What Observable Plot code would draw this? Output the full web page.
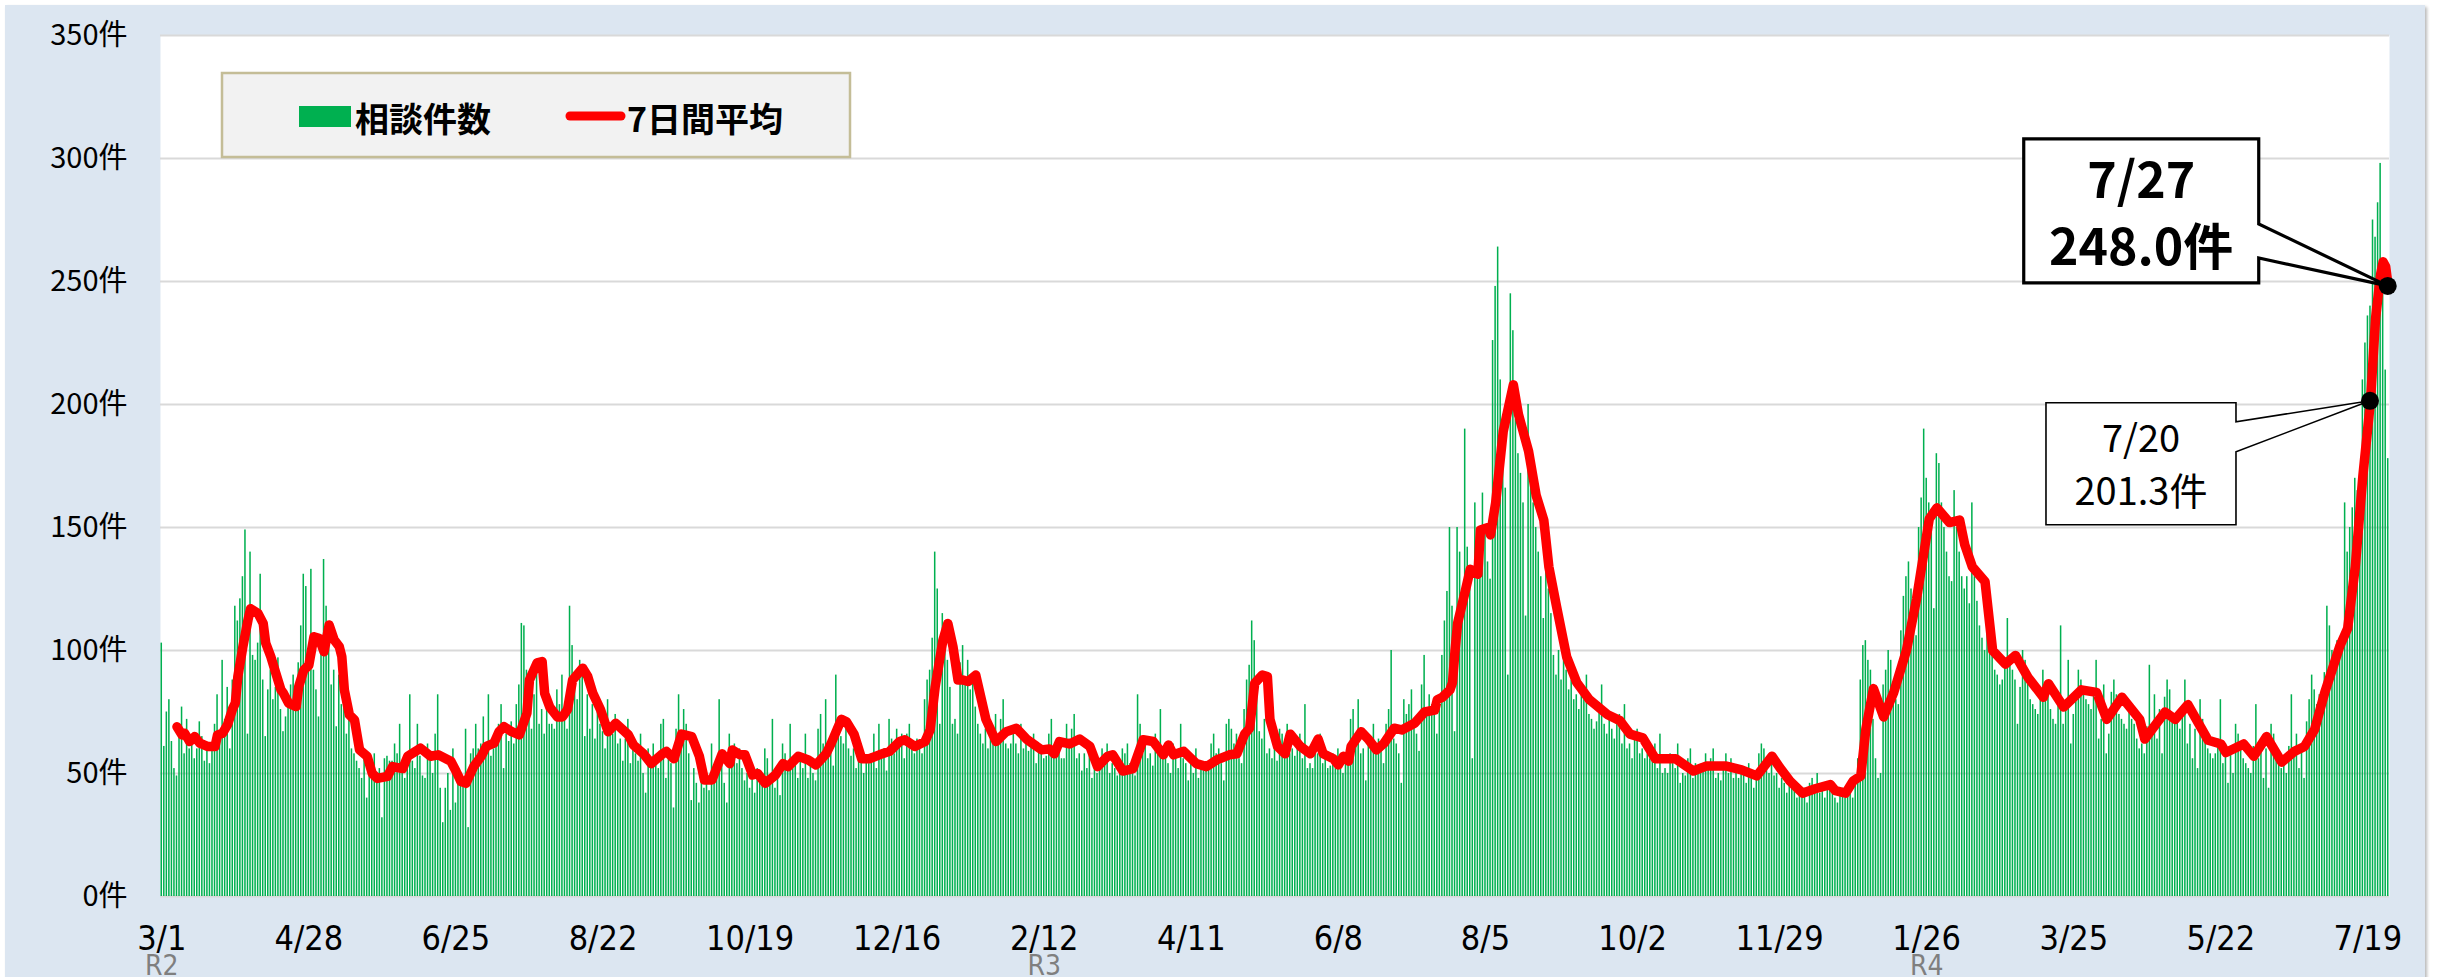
<!DOCTYPE html>
<html>
<head>
<meta charset="utf-8">
<script src="https://cdn.jsdelivr.net/npm/d3@7"></script>
<script src="https://cdn.jsdelivr.net/npm/@observablehq/plot@0.6"></script>
<style>
  body { margin: 0; background: #ffffff; }
  #wrap { position: relative; width: 2438px; height: 977px; overflow: hidden; }
  #bg { position: absolute; left: 5px; top: 5px; width: 2420px; height: 1000px; background: #DCE6F1;
        box-shadow: 2px 2px 3px rgba(0,0,0,0.28); }
  #chart { position: absolute; left: 0; top: 0; }
</style>
</head>
<body>
<div id="wrap"><div id="bg"></div><div id="chart"></div></div>
<script>
// Daily consultation counts from 2020-03-01 (day 0) to 2022-07-27 (day 878), one row per week
const counts = [
103,61,75,80,63,52,49, 68,77,58,72,60,64,56, 60,71,65,55,62,54,60, 70,82,67,96,72,85,60,
88,118,112,121,130,149,66, 140,98,96,103,131,88,65, 84,92,80,85,97,76,67, 73,80,86,90,82,95,110,
131,126,96,133,92,84,73, 104,137,118,108,86,92,69, 90,78,80,66,72,60,58, 55,52,48,56,40,50,49,
58,47,52,32,56,57,55, 55,62,58,70,50,48,56, 82,55,52,70,57,49,48, 62,58,50,66,82,44,30,
44,50,35,60,38,52,50, 48,68,28,58,60,70,60, 62,73,58,82,57,60,63, 70,78,52,66,63,71,62,
78,86,111,110,92,85,68, 82,95,70,76,66,80,70, 70,68,84,78,90,74,68, 118,102,86,80,96,90,65,
82,68,78,64,75,70,67, 60,80,70,66,74,62,64, 55,64,72,54,62,58,55, 66,50,42,60,56,62,56,
52,70,72,48,60,54,36, 68,82,62,76,70,58,39, 52,46,38,58,44,48,43, 62,50,48,80,54,46,38,
66,58,62,54,60,52,47, 50,44,48,42,52,46,47, 60,56,48,72,44,50,41, 62,58,54,70,52,55,48,
58,52,66,48,54,50,47, 68,74,62,80,58,60,53, 90,72,65,62,70,60,57, 60,52,58,62,50,56,54,
58,66,52,70,56,60,51, 72,64,58,68,62,66,56, 66,70,60,58,64,62,58, 80,88,92,105,140,125,70,
115,112,96,85,70,72,66, 95,102,88,96,84,88,77, 70,66,62,68,60,64,65, 74,66,72,80,62,60,62,
68,62,58,70,60,64,59, 62,66,54,60,58,56,57, 66,72,58,62,64,56,56, 70,64,68,74,56,58,51,
58,52,60,48,56,50,54, 60,58,62,50,54,52,49, 52,60,58,62,54,50,49, 82,70,58,64,56,58,53,
66,58,76,60,56,54,50, 62,58,52,70,56,54,47, 56,50,60,48,54,52,51, 52,62,66,58,60,54,47,
70,72,68,62,66,56,54, 76,88,94,112,104,82,67, 64,72,58,60,56,62,55, 68,66,62,70,58,60,57,
62,66,56,78,52,54,52, 60,58,66,54,56,52,53, 58,52,60,54,50,56,55, 72,76,62,80,58,60,47,
66,60,70,58,64,62,54, 70,76,100,64,62,58,46, 80,74,78,84,70,66,59, 86,98,76,82,78,74,66,
80,98,112,124,150,118,67, 150,140,125,190,142,128,56, 160,150,142,164,148,136,129, 226,248,264,210,196,166,90,
245,230,194,180,172,160,114, 200,178,160,150,140,130,113, 140,125,115,98,90,100,88, 100,92,84,88,80,82,76,
84,80,90,74,72,68,71, 78,86,70,66,72,68,64, 70,74,62,78,60,62,56, 64,68,58,60,56,58,56,
60,62,52,66,50,52,50, 58,54,52,62,46,50,49, 56,60,48,54,52,50,51, 58,52,56,60,48,50,47,
54,58,50,56,48,50,48, 52,50,46,54,48,44,49, 58,62,60,52,50,54,49, 50,44,48,46,42,47,45,
46,40,45,42,44,38,46, 48,44,50,42,46,40,45, 44,46,40,38,42,44,40, 42,44,40,48,56,88,102,
104,96,92,72,56,48,50, 86,92,100,96,84,80,78, 108,122,130,136,125,120,106, 150,162,190,170,160,150,117,
180,176,160,150,140,130,128, 165,150,140,130,125,130,119, 160,130,120,110,105,100,115, 108,100,92,90,86,88,97,
113,96,92,88,70,85,100, 96,90,80,78,76,74,80, 92,86,82,76,72,70,82, 110,70,80,96,62,74,82,
92,88,84,80,78,76,83, 96,64,72,86,58,66,83, 88,82,74,72,70,68,78, 72,70,64,60,62,58,69,
94,70,82,64,76,58,81, 88,84,74,70,72,68,76, 88,62,70,56,68,52,80, 72,66,60,58,56,58,64,
80,54,62,46,58,50,70, 66,60,56,54,52,50,61, 78,56,64,48,60,44,70, 66,60,56,52,54,50,61,
82,60,66,52,62,48,71, 80,90,84,78,82,76,91, 118,110,100,96,104,98,102, 160,140,150,158,170,165,163,
210,225,236,240,275,268,282, 298,245,214,178
];

// 7-day average (day index, value)
const avgDays = [6,8,9,11,13,15,18,21,22,24,26,28,29,30,32,34,35,38,40,41,43,45,47,48,50,53,54,56,58,60,62,64,66,68,70,71,72,74,76,78,81,83,85,89,91,95,97,102,106,109,114,116,118,120,123,126,128,131,133,135,138,141,144,145,148,150,151,153,156,158,160,162,166,168,170,173,
176,179,184,186,190,193,197,199,202,205,209,212,214,217,221,224,225,228,230,233,235,238,242,245,247,251,255,258,262,264,268,270,273,276,279,283,287,291,293,297,301,303,305,308,310,312,314,316,318,321,325,329,333,337,341,345,347,
350,352,354,358,362,366,369,373,375,379,383,387,391,395,397,399,403,408,412,416,421,424,427,429,431,434,436,437,440,443,445,449,453,456,458,462,464,466,468,469,473,476,479,482,486,489,494,498,502,503,505,508,509,510,511,514,516,519,520,523,524,526,
529,533,535,539,542,545,547,550,554,558,563,570,575,579,584,589,597,604,609,617,623,629,635,638,642,647,652,658,660,664,667,670,672,675,679,
683,688,692,697,700,705,709,711,714,719,722,727,731,736,742,744,750,757,763,767,773,780,782,790,794,799,807,812,814,821,825,830,836,841,845,849,853,859,862,865,868,871,873,875,876,877,878];
const avgValues = [69,65.7,66.4,63,65,62.3,61,61,65.7,66.4,70,76.5,78.6,89.4,101.6,112.4,117,115,111,103,97.5,90.7,84,82.6,78.6,77.2,85.3,92,94,105.6,105,99.5,110.4,104.3,101.6,97.5,84,73.8,71.8,59.6,57,50,48,48.8,52.8,52,57,60.3,57,57.6,55,51,46.7,46,52.8,57,61,62.3,67,69,67,65.7,74.5,88,95,95.5,82.6,77,73,73,76,88,92.8,89.4,82.6,76,
67,70.4,65.7,61.6,58,54,57.6,59,56,66,65,57,47.4,47.4,58,54,59.6,57.6,57.6,49.4,50,46,49.4,54,52.8,57,55.5,53.5,58,62.3,72,71,66,56,56,57.6,59,63,63.7,61,63,67.7,85.3,104,111,101.6,88,88,87.4,90,72,63,67,68.4,64,61,59.6,
60,58,63,62,64,61,52.8,57,57.6,51,52,63.7,63,57.6,61.6,57.6,59,54,52.8,55.5,57.6,58,66,68.4,86.7,90,89.4,72,61,58,66,61,58,64,58,56,53.5,57,55,61,67,63.7,59.6,62.3,68.4,67.7,70.4,75,75.8,80,81,84,87,100,111,124,133,131,149,150,147,160,
189,208,196,181,163,153,134,118,97.5,87,80,74,71.5,66,64.5,56,56,51,53,53,51.5,49,57,52.5,47,42,43.8,45.5,43,42,47,49,68,84.5,73,
83,100,121,153.5,158,152,153,143,134,128,100,94.5,98,89,81,86.5,77,84,83,72,81,72,64,75,72,78,63.5,62,58.5,62,57,65,54.6,59,61,68,83,102,109,134,171,201.3,235,253,258,256,248];

const xTickDays = [0,58,116,174,232,290,348,406,464,522,580,638,696,754,812,870];
const xTickLabels = ["3/1","4/28","6/25","8/22","10/19","12/16","2/12","4/11","6/8","8/5","10/2","11/29","1/26","3/25","5/22","7/19"];
const eraDays = [0,348,696];
const eraLabels = ["R2","R3","R4"];
const yTicks = [0,50,100,150,200,250,300,350];
const callouts = [
  {day: 878, value: 248.0, date: "7/27", label: "248.0件"},
  {day: 871, value: 201.3, date: "7/20", label: "201.3件"}
];
const legendLabels = ["相談件数", "7日間平均"];

const bars = counts.map((v, i) => ({day: i, v}));
const avg = avgDays.map((d, i) => ({day: d, v: avgValues[i]}));
const xt = xTickDays.map((d, i) => ({day: d, label: xTickLabels[i]}));
const era = eraDays.map((d, i) => ({day: d, label: eraLabels[i]}));

const jp = "'Noto Sans CJK JP', 'Noto Sans', sans-serif";
const narrow = "'Liberation Sans Narrow', 'DejaVu Sans Condensed', 'Roboto', sans-serif";

const plot = Plot.plot({
  width: 2438, height: 977,
  marginLeft: 160, marginRight: 49, marginTop: 35, marginBottom: 81,
  style: {background: "transparent", color: "#000", fontFamily: jp},
  x: {domain: [-0.5, 878.5], axis: null},
  y: {domain: [0, 350], axis: null},
  marks: [
    Plot.frame({fill: "white", stroke: null}),
    Plot.gridY(yTicks, {stroke: "#D9D9D9", strokeOpacity: 1, strokeWidth: 2}),
    Plot.rectY(bars, {x1: d => d.day - 0.3, x2: d => d.day + 0.3, y: "v", fill: "#00B050"}),
    Plot.line(avg, {x: "day", y: "v", stroke: "#FF0000", strokeWidth: 9.5, strokeLinejoin: "round", strokeLinecap: "round"}),
    Plot.axisY(yTicks, {tickSize: 0, tickPadding: 33, tickFormat: d => d + "件", fontSize: 29, fontFamily: jp, label: null}),
    Plot.text(xt, {x: "day", text: "label", frameAnchor: "bottom", dy: 43, lineAnchor: "middle", fontSize: 34, fontFamily: narrow, fill: "#000"}),
    Plot.text(era, {x: "day", text: "label", frameAnchor: "bottom", dy: 70, lineAnchor: "middle", fontSize: 28, fontFamily: narrow, fill: "#7F7F7F"})
  ]
});
document.getElementById("chart").appendChild(plot);

const svg = d3.select(plot);
const X = plot.scale("x"), Y = plot.scale("y");

// Legend
const lg = svg.append("g").attr("text-anchor", "start");
lg.append("rect").attr("x", 222).attr("y", 73).attr("width", 628).attr("height", 84)
  .attr("fill", "#F2F2F2").attr("stroke", "#C4BD97").attr("stroke-width", 2.5);
lg.append("rect").attr("x", 299).attr("y", 106).attr("width", 52).attr("height", 21).attr("fill", "#00B050");
lg.append("text").attr("x", 355).attr("y", 117).attr("dominant-baseline", "central").attr("text-anchor", "start")
  .attr("font-family", jp).attr("font-weight", "bold").attr("font-size", 34).attr("fill", "#000").text(legendLabels[0]);
lg.append("line").attr("x1", 570).attr("x2", 621).attr("y1", 116).attr("y2", 116)
  .attr("stroke", "#FF0000").attr("stroke-width", 9).attr("stroke-linecap", "round");
lg.append("text").attr("x", 627).attr("y", 117).attr("dominant-baseline", "central").attr("text-anchor", "start")
  .attr("font-family", jp).attr("font-weight", "bold").attr("font-size", 34).attr("fill", "#000").text(legendLabels[1]);

// Callouts
const g = svg.append("g");
{
  const c = callouts[0];
  const px = X.apply(c.day), py = Y.apply(c.value);
  const L = px - 364, R = px - 129, T = py - 147, B = py - 3;
  g.append("path").attr("d", `M${L},${T}H${R}V${py - 62}L${px},${py}L${R},${py - 28}V${B}H${L}Z`)
    .attr("fill", "white").attr("stroke", "#000").attr("stroke-width", 3.2).attr("stroke-linejoin", "miter");
  g.append("text").attr("x", (L + R) / 2).attr("y", py - 110).attr("text-anchor", "middle").attr("dominant-baseline", "central")
    .attr("font-family", jp).attr("font-weight", "bold").attr("font-size", 50).attr("fill", "#000").text(c.date);
  g.append("text").attr("x", (L + R) / 2).attr("y", py - 43).attr("text-anchor", "middle").attr("dominant-baseline", "central")
    .attr("font-family", jp).attr("font-weight", "bold").attr("font-size", 50).attr("fill", "#000").text(c.label);
}
{
  const c = callouts[1];
  const px = X.apply(c.day), py = Y.apply(c.value);
  const L = px - 324, R = px - 134, T = py + 2, B = py + 124;
  g.append("path").attr("d", `M${L},${T}H${R}V${py + 21}L${px},${py}L${R},${py + 51}V${B}H${L}Z`)
    .attr("fill", "white").attr("stroke", "#000").attr("stroke-width", 1.6);
  g.append("text").attr("x", (L + R) / 2).attr("y", py + 35).attr("text-anchor", "middle").attr("dominant-baseline", "central")
    .attr("font-family", jp).attr("font-size", 38).attr("fill", "#000").text(c.date);
  g.append("text").attr("x", (L + R) / 2).attr("y", py + 88).attr("text-anchor", "middle").attr("dominant-baseline", "central")
    .attr("font-family", jp).attr("font-size", 38).attr("fill", "#000").text(c.label);
}
callouts.forEach(c => {
  g.append("circle").attr("cx", X.apply(c.day)).attr("cy", Y.apply(c.value)).attr("r", 9).attr("fill", "#000");
});
</script>
</body>
</html>
